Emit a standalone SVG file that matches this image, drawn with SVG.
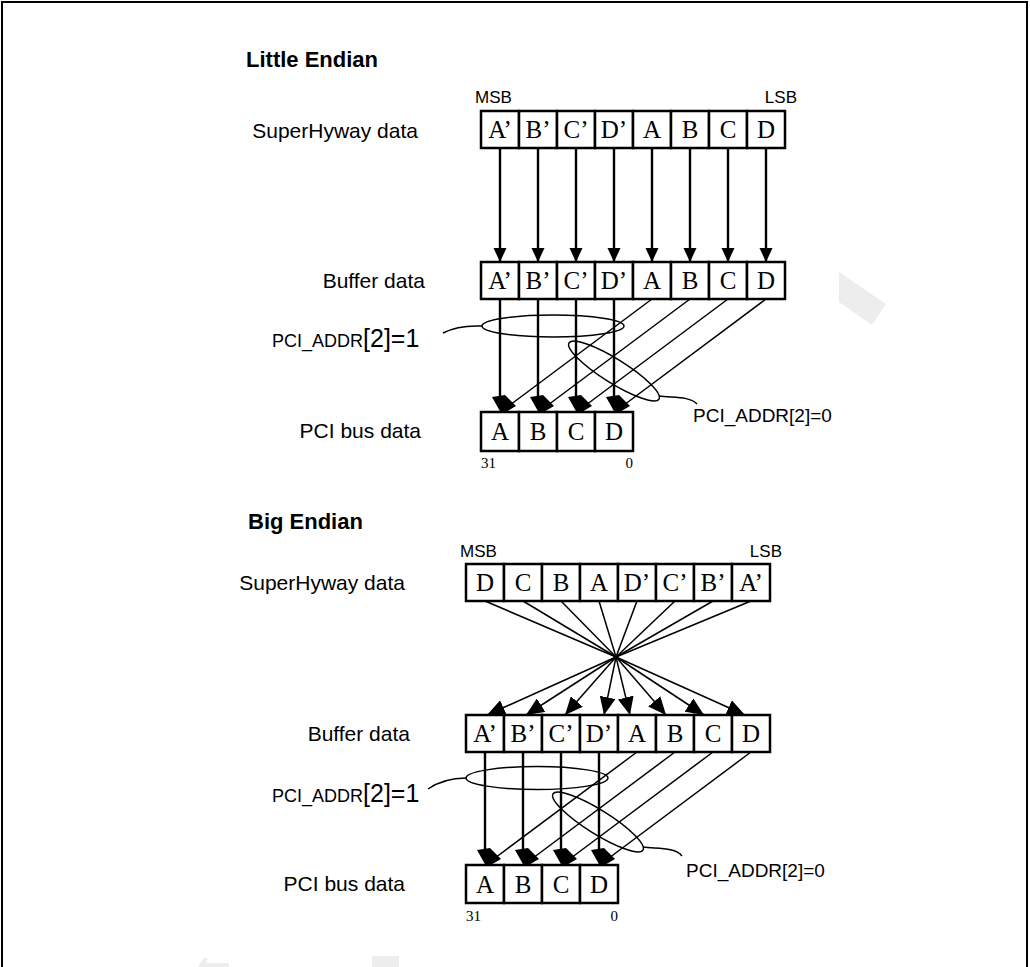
<svg xmlns="http://www.w3.org/2000/svg" xmlns:xlink="http://www.w3.org/1999/xlink" width="1030" height="967" viewBox="0 0 1030 967">
<style>
.lbl{font-family:"Liberation Sans",Arial,sans-serif;font-size:21px;fill:#000}
.ttl{font-family:"Liberation Sans",Arial,sans-serif;font-size:22px;font-weight:bold;fill:#000}
.msb{font-family:"Liberation Sans",Arial,sans-serif;font-size:17px;fill:#000}
.sm{font-family:"Liberation Sans",Arial,sans-serif;font-size:18px}
.big{font-family:"Liberation Sans",Arial,sans-serif;font-size:25px}
.addr0{font-family:"Liberation Sans",Arial,sans-serif;font-size:19px;fill:#000}
.cell{fill:#fff;stroke:#000;stroke-width:2.5}
.ch{font-family:"Liberation Serif","Times New Roman",serif;font-size:25px;fill:#000;text-anchor:middle}
.bit{font-family:"Liberation Serif","Times New Roman",serif;font-size:15px;fill:#000}
.ln{stroke:#000;stroke-width:1.5;fill:none}
.lnb{stroke:#000;stroke-width:2.4;fill:none}
.ell{stroke:#000;stroke-width:1.5;fill:none}
.wm{fill:#ededed}
.blob{fill:#000}
</style>
<defs>
<marker id="ah" markerUnits="userSpaceOnUse" markerWidth="14" markerHeight="14" viewBox="0 0 14 13" refX="14" refY="6.5" orient="auto">
<path d="M0,0 L14,6.5 L0,13 Z" fill="#000"/>
</marker>
<marker id="ah2" markerUnits="userSpaceOnUse" markerWidth="18" markerHeight="16" viewBox="0 0 18 16" refX="18" refY="8" orient="auto">
<path d="M0,0 L18,8 L0,16 Z" fill="#000"/>
</marker>
<path id="blob" d="M-8,-15 L5,-17 L16,-6 L4,1 L1,1 Z"/>
</defs>
<rect x="0" y="0" width="1030" height="967" fill="#fff"/>
<path d="M2,975 V2 H1027 V975" fill="none" stroke="#000" stroke-width="2"/>
<g id="watermark">
<polygon class="wm" points="839,272 886,304 872,325 839,302"/>
<polygon class="wm" points="204,958 208,958 206,963 229,963 229,967 198,967"/>
<polygon class="wm" points="372,956 399,956 399,967 372,967"/>
</g>

<g id="titles">
<text class="ttl" x="246" y="67">Little Endian</text>
<text class="ttl" x="248" y="529">Big Endian</text>
</g>

<g id="le-superhyway">
<text class="lbl" x="418" y="138" text-anchor="end">SuperHyway data</text>
<text class="msb" x="475" y="103">MSB</text>
<text class="msb" x="797" y="103" text-anchor="end">LSB</text>
<rect class="cell" x="481" y="111" width="38" height="37"/><rect class="cell" x="519" y="111" width="38" height="37"/>
<rect class="cell" x="557" y="111" width="38" height="37"/><rect class="cell" x="595" y="111" width="38" height="37"/>
<rect class="cell" x="633" y="111" width="38" height="37"/><rect class="cell" x="671" y="111" width="38" height="37"/>
<rect class="cell" x="709" y="111" width="38" height="37"/><rect class="cell" x="747" y="111" width="38" height="37"/>
<text class="ch" x="500" y="138">A’</text><text class="ch" x="538" y="138">B’</text><text class="ch" x="576" y="138">C’</text><text class="ch" x="614" y="138">D’</text>
<text class="ch" x="652" y="138">A</text><text class="ch" x="690" y="138">B</text><text class="ch" x="728" y="138">C</text><text class="ch" x="766" y="138">D</text>
</g>

<g id="le-buffer">
<text class="lbl" x="425" y="288" text-anchor="end">Buffer data</text>
<rect class="cell" x="481" y="262" width="38" height="37"/><rect class="cell" x="519" y="262" width="38" height="37"/>
<rect class="cell" x="557" y="262" width="38" height="37"/><rect class="cell" x="595" y="262" width="38" height="37"/>
<rect class="cell" x="633" y="262" width="38" height="37"/><rect class="cell" x="671" y="262" width="38" height="37"/>
<rect class="cell" x="709" y="262" width="38" height="37"/><rect class="cell" x="747" y="262" width="38" height="37"/>
<text class="ch" x="500" y="289">A’</text><text class="ch" x="538" y="289">B’</text><text class="ch" x="576" y="289">C’</text><text class="ch" x="614" y="289">D’</text>
<text class="ch" x="652" y="289">A</text><text class="ch" x="690" y="289">B</text><text class="ch" x="728" y="289">C</text><text class="ch" x="766" y="289">D</text>
</g>

<g id="le-pci">
<text class="lbl" x="421" y="438" text-anchor="end">PCI bus data</text>
<rect class="cell" x="481" y="412" width="38" height="39"/><rect class="cell" x="519" y="412" width="38" height="39"/>
<rect class="cell" x="557" y="412" width="38" height="39"/><rect class="cell" x="595" y="412" width="38" height="39"/>
<text class="ch" x="500" y="440">A</text><text class="ch" x="538" y="440">B</text><text class="ch" x="576" y="440">C</text><text class="ch" x="614" y="440">D</text>
<text class="bit" x="481" y="468">31</text>
<text class="bit" x="633" y="468" text-anchor="end">0</text>
</g>

<g id="le-addr1">
<text x="272" y="347" fill="#000"><tspan class="sm">PCI_ADDR</tspan><tspan class="big">[2]=1</tspan></text>
<ellipse class="ell" cx="553" cy="326" rx="71" ry="11"/>
<path class="ell" d="M443,333 Q458,325 482,326"/>
</g>
<g id="le-addr0">
<text class="addr0" x="693" y="422">PCI_ADDR[2]=0</text>
<ellipse class="ell" cx="0" cy="0" rx="53" ry="12" transform="translate(614,371) rotate(32)"/>
<path class="ell" d="M659,396 C672,398 690,396 697,404"/>
</g>

<g id="be-superhyway">
<text class="lbl" x="405" y="590" text-anchor="end">SuperHyway data</text>
<text class="msb" x="460" y="557">MSB</text>
<text class="msb" x="782" y="557" text-anchor="end">LSB</text>
<rect class="cell" x="466" y="564" width="38" height="37"/><rect class="cell" x="504" y="564" width="38" height="37"/>
<rect class="cell" x="542" y="564" width="38" height="37"/><rect class="cell" x="580" y="564" width="38" height="37"/>
<rect class="cell" x="618" y="564" width="38" height="37"/><rect class="cell" x="656" y="564" width="38" height="37"/>
<rect class="cell" x="694" y="564" width="38" height="37"/><rect class="cell" x="732" y="564" width="38" height="37"/>
<text class="ch" x="485" y="591">D</text><text class="ch" x="523" y="591">C</text><text class="ch" x="561" y="591">B</text><text class="ch" x="599" y="591">A</text>
<text class="ch" x="637" y="591">D’</text><text class="ch" x="675" y="591">C’</text><text class="ch" x="713" y="591">B’</text><text class="ch" x="751" y="591">A’</text>
</g>

<g id="be-buffer">
<text class="lbl" x="410" y="741" text-anchor="end">Buffer data</text>
<rect class="cell" x="466" y="715" width="38" height="37"/><rect class="cell" x="504" y="715" width="38" height="37"/>
<rect class="cell" x="542" y="715" width="38" height="37"/><rect class="cell" x="580" y="715" width="38" height="37"/>
<rect class="cell" x="618" y="715" width="38" height="37"/><rect class="cell" x="656" y="715" width="38" height="37"/>
<rect class="cell" x="694" y="715" width="38" height="37"/><rect class="cell" x="732" y="715" width="38" height="37"/>
<text class="ch" x="485" y="742">A’</text><text class="ch" x="523" y="742">B’</text><text class="ch" x="561" y="742">C’</text><text class="ch" x="599" y="742">D’</text>
<text class="ch" x="637" y="742">A</text><text class="ch" x="675" y="742">B</text><text class="ch" x="713" y="742">C</text><text class="ch" x="751" y="742">D</text>
</g>

<g id="be-pci">
<text class="lbl" x="405" y="891" text-anchor="end">PCI bus data</text>
<rect class="cell" x="466" y="865" width="38" height="38"/><rect class="cell" x="504" y="865" width="38" height="38"/>
<rect class="cell" x="542" y="865" width="38" height="38"/><rect class="cell" x="580" y="865" width="38" height="38"/>
<text class="ch" x="485" y="893">A</text><text class="ch" x="523" y="893">B</text><text class="ch" x="561" y="893">C</text><text class="ch" x="599" y="893">D</text>
<text class="bit" x="466" y="921">31</text>
<text class="bit" x="618" y="921" text-anchor="end">0</text>
</g>

<g id="be-addr1">
<text x="272" y="802" fill="#000"><tspan class="sm">PCI_ADDR</tspan><tspan class="big">[2]=1</tspan></text>
<ellipse class="ell" cx="537" cy="778" rx="71" ry="11.5"/>
<path class="ell" d="M428,789 Q444,778 466,778"/>
</g>
<g id="be-addr0">
<text class="addr0" x="686" y="877">PCI_ADDR[2]=0</text>
<ellipse class="ell" cx="0" cy="0" rx="53" ry="12" transform="translate(598,822) rotate(32)"/>
<path class="ell" d="M643,847 C656,849 675,847 682,856"/>
</g>

<g id="connectors">
<line class="lnb" x1="500" y1="148" x2="500" y2="262" marker-end="url(#ah)"/>
<line class="lnb" x1="538" y1="148" x2="538" y2="262" marker-end="url(#ah)"/>
<line class="lnb" x1="576" y1="148" x2="576" y2="262" marker-end="url(#ah)"/>
<line class="lnb" x1="614" y1="148" x2="614" y2="262" marker-end="url(#ah)"/>
<line class="lnb" x1="652" y1="148" x2="652" y2="262" marker-end="url(#ah)"/>
<line class="lnb" x1="690" y1="148" x2="690" y2="262" marker-end="url(#ah)"/>
<line class="lnb" x1="728" y1="148" x2="728" y2="262" marker-end="url(#ah)"/>
<line class="lnb" x1="766" y1="148" x2="766" y2="262" marker-end="url(#ah)"/>

<line class="lnb" x1="500" y1="299" x2="500" y2="408"/>
<line class="lnb" x1="538" y1="299" x2="538" y2="408"/>
<line class="lnb" x1="576" y1="299" x2="576" y2="408"/>
<line class="lnb" x1="614" y1="299" x2="614" y2="408"/>
<line class="ln" x1="652" y1="299" x2="510" y2="405"/>
<line class="ln" x1="690" y1="299" x2="548" y2="405"/>
<line class="ln" x1="728" y1="299" x2="586" y2="405"/>
<line class="ln" x1="766" y1="299" x2="624" y2="405"/>
<use xlink:href="#blob" href="#blob" class="blob" x="500" y="412"/>
<use xlink:href="#blob" href="#blob" class="blob" x="538" y="412"/>
<use xlink:href="#blob" href="#blob" class="blob" x="576" y="412"/>
<use xlink:href="#blob" href="#blob" class="blob" x="614" y="412"/>

<line class="ln" x1="485" y1="601" x2="616" y2="657"/>
<line class="ln" x1="523" y1="601" x2="616" y2="657"/>
<line class="ln" x1="561" y1="601" x2="616" y2="657"/>
<line class="ln" x1="599" y1="601" x2="616" y2="657"/>
<line class="ln" x1="637" y1="601" x2="616" y2="657"/>
<line class="ln" x1="675" y1="601" x2="616" y2="657"/>
<line class="ln" x1="713" y1="601" x2="616" y2="657"/>
<line class="ln" x1="751" y1="601" x2="616" y2="657"/>

<line class="ln" x1="616" y1="657" x2="487" y2="715" marker-end="url(#ah2)"/>
<line class="ln" x1="616" y1="657" x2="526" y2="715" marker-end="url(#ah2)"/>
<line class="ln" x1="616" y1="657" x2="565" y2="715" marker-end="url(#ah2)"/>
<line class="ln" x1="616" y1="657" x2="604" y2="715" marker-end="url(#ah2)"/>
<line class="ln" x1="616" y1="657" x2="630" y2="715" marker-end="url(#ah2)"/>
<line class="ln" x1="616" y1="657" x2="666" y2="715" marker-end="url(#ah2)"/>
<line class="ln" x1="616" y1="657" x2="704" y2="715" marker-end="url(#ah2)"/>
<line class="ln" x1="616" y1="657" x2="745" y2="715" marker-end="url(#ah2)"/>

<line class="lnb" x1="485" y1="752" x2="485" y2="861"/>
<line class="lnb" x1="523" y1="752" x2="523" y2="861"/>
<line class="lnb" x1="561" y1="752" x2="561" y2="861"/>
<line class="lnb" x1="599" y1="752" x2="599" y2="861"/>
<line class="ln" x1="637" y1="752" x2="495" y2="858"/>
<line class="ln" x1="675" y1="752" x2="533" y2="858"/>
<line class="ln" x1="713" y1="752" x2="571" y2="858"/>
<line class="ln" x1="751" y1="752" x2="609" y2="858"/>
<use xlink:href="#blob" href="#blob" class="blob" x="485" y="865"/>
<use xlink:href="#blob" href="#blob" class="blob" x="523" y="865"/>
<use xlink:href="#blob" href="#blob" class="blob" x="561" y="865"/>
<use xlink:href="#blob" href="#blob" class="blob" x="599" y="865"/>
</g>
</svg>
